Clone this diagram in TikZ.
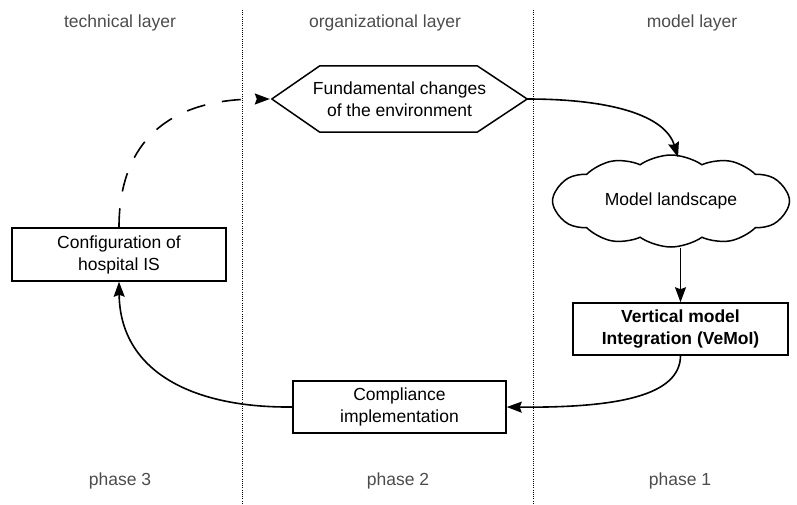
\documentclass[tikz,border=0pt]{standalone}
\usepackage{fontspec}
\setmainfont{Liberation Sans}
\usetikzlibrary{shapes.symbols,arrows.meta,calc}
\begin{document}
\begin{tikzpicture}[x=1pt,y=-1pt,
  every node/.style={font=\fontsize{17.5}{22}\selectfont, align=center},
  boxnode/.style={draw, line width=1.5pt, minimum width=213pt, minimum height=52pt, inner sep=2pt},
  lbl/.style={text=black!70},
  sep/.style={line width=1pt, dash pattern=on 1pt off 1.2pt, black},
  conn/.style={line width=1.6pt, -{Stealth[length=15pt,width=11pt,inset=2pt]}},
  dconn/.style={conn, dash pattern=on 19pt off 17pt}]
\useasboundingbox (0,0) rectangle (797,504);
% separators
\coordinate (s1t) at (242,10); \coordinate (s1b) at (242,504);
\coordinate (s2t) at (533,10); \coordinate (s2b) at (533,504);
\draw[sep] (s1t) -- (s1b);
\draw[sep] (s2t) -- (s2b);
% headers and footers
\node[lbl] (h1) at (120,23) {technical layer};
\node[lbl] (h2) at (385,23) {organizational layer};
\node[lbl] (h3) at (692,23) {model layer};
\node[lbl] (p3) at (120,481) {phase 3};
\node[lbl] (p2) at (398,481) {phase 2};
\node[lbl] (p1) at (680,481) {phase 1};
% hexagon
\node[minimum width=255pt, minimum height=66pt, inner sep=0pt] (hex) at (399.5,99) {Fundamental changes\\of the environment};
\draw[line width=1.5pt, line join=round] (hex.west) -- ($(hex.north west)+(48,0)$) -- ($(hex.north east)+(-50,0)$) -- (hex.east)
  -- ($(hex.south east)+(-50,0)$) -- ($(hex.south west)+(48,0)$) -- cycle;
% cloud
\node[cloud, draw, line width=1.5pt, cloud puffs=12, cloud puff arc=70, aspect=2.6,
  minimum width=237pt, minimum height=92pt, inner sep=0pt] (cloud) at (671,201) {Model landscape};
% boxes
\node[boxnode, minimum width=214pt, minimum height=53pt] (conf) at (119,254.5) {Configuration of\\hospital IS};
\node[boxnode, minimum width=215pt, font=\fontsize{17.5}{22}\selectfont\bfseries] (vemoi) at (680.5,329) {Vertical model\\Integration (VeMoI)};
\node[boxnode] (compl) at (399.5,407) {Compliance\\implementation};
% connectors
\draw[dconn, shorten >=2pt] (conf.north) .. controls (119,150) and (160,99) .. (hex.west);
\draw[conn] (hex.east) .. controls (610,99) and (665,115) .. ([xshift=7pt,yshift=-3pt]cloud.north);
\draw[conn] (vemoi.north |- cloud.south) -- (vemoi.north);
\draw[conn] (vemoi.south) .. controls (680,395) and (620,408) .. (compl.east);
\draw[conn] (compl.west) .. controls (190,408) and (120,370) .. (conf.south);
\end{tikzpicture}
\end{document}
